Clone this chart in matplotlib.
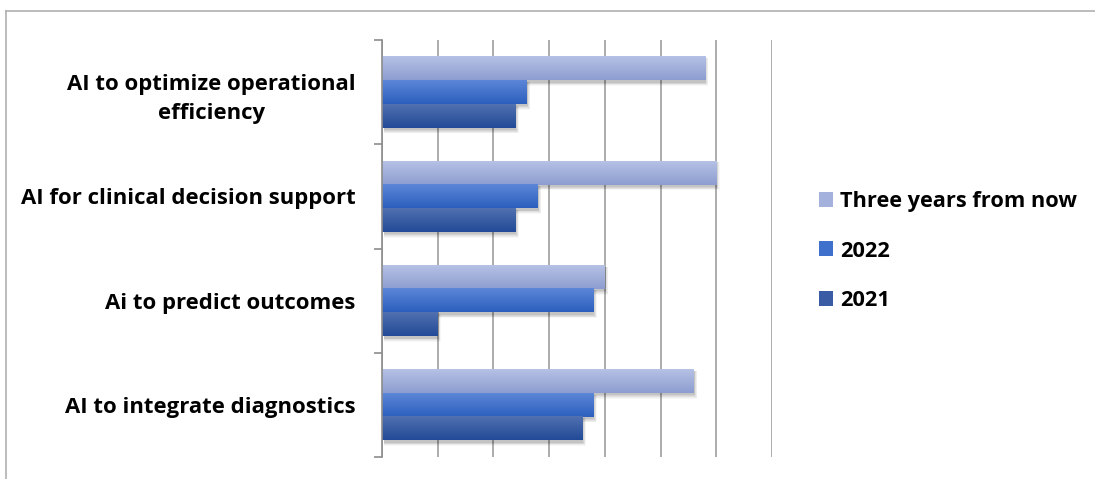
import numpy as np
import matplotlib
matplotlib.use('Agg')
import matplotlib.pyplot as plt
from matplotlib.patches import Rectangle, Patch
from matplotlib.lines import Line2D
from matplotlib.colors import to_rgb

plt.rcParams["font.family"] = ["Open Sans", "DejaVu Sans"]

# 응답 비율 (%)
categories = [
    "AI to optimize operational\nefficiency",
    "AI for clinical decision support",
    "Ai to predict outcomes",
    "AI to integrate diagnostics",
]
series_names = ["Three years from now", "2022", "2021"]
three_years = [58, 60, 40, 56]
y2022 = [26, 28, 38, 38]
y2021 = [24, 24, 10, 36]

# (위쪽 밝은색, 아래쪽 어두운색)
grad_colors = [
    ("#b5c1e5", "#8d9dcf"),
    ("#5c86d7", "#2c5fbe"),
    ("#5171b0", "#224a97"),
]
legend_colors = ["#a3b1dc", "#3f70cb", "#3a5ca4"]


def gradient_bar(ax, x0, width, y_top, height, c_top, c_bot):
    # 그림자: 오른쪽 아래로 번지는 회색
    for k, a in enumerate([0.07, 0.06, 0.05, 0.04, 0.03]):
        s = 0.06 * (k + 1)
        ax.add_patch(Rectangle((x0 + 0.3, y_top + 0.015), width - 0.3 + s * 2,
                               height + 0.008 * (k + 1),
                               facecolor="black", alpha=a, lw=0, zorder=2))
    n = 64
    t = np.linspace(0, 1, n)[:, None]
    top = np.array(to_rgb(c_top))
    bot = np.array(to_rgb(c_bot))
    img = (top * (1 - t) + bot * t)[:, None, :]
    ax.imshow(img, extent=(x0, x0 + width, y_top + height, y_top),
              origin="upper", aspect="auto", interpolation="bilinear", zorder=3)


fig = plt.figure(figsize=(10.95, 4.79), dpi=100)
ax = fig.add_axes([382 / 1095, 22 / 479, 390 / 1095, 417 / 479])

bar_h = 0.227
data = [three_years, y2022, y2021]
for i in range(len(categories)):
    start = i - 1.5 * bar_h
    for j, vals in enumerate(data):
        gradient_bar(ax, 0, vals[i], start + j * bar_h, bar_h, *grad_colors[j])

ax.set_xlim(0, 70)
ax.set_ylim(3.5, -0.5)

ax.set_xticks(np.arange(0, 71, 10))
ax.xaxis.grid(True, color="#a6a6a6", lw=1.3, zorder=1)
ax.set_axisbelow(True)
ax.tick_params(axis="x", length=0, labelbottom=False)

ax.set_yticks(range(len(categories)))
ax.set_yticklabels(categories, fontsize=15.9, fontweight="bold", ha="right",
                   multialignment="center", linespacing=1.55)
ax.set_yticks(np.arange(-0.5, 3.6, 1), minor=True)
ax.tick_params(axis="y", which="major", length=0, pad=19)
ax.tick_params(axis="y", which="minor", length=6, width=1.2, color="#8c8c8c",
               direction="out")

for side in ["top", "right", "bottom"]:
    ax.spines[side].set_visible(False)
ax.spines["left"].set_color("#8c8c8c")
ax.spines["left"].set_linewidth(1.2)
ax.spines["left"].set_zorder(4)

handles = [Patch(facecolor=c, edgecolor="none") for c in legend_colors]
fig.legend(handles, series_names, loc="center left",
           bbox_to_anchor=(799 / 1095, (479 - 251) / 479),
           frameon=False, prop={"weight": "bold", "size": 15.7},
           handlelength=0.68, handleheight=0.68, handletextpad=0.3,
           labelspacing=1.3)

# 차트 영역 테두리
fig.add_artist(Line2D([6 / 1095, 1], [1 - 11 / 479, 1 - 11 / 479],
                      transform=fig.transFigure, color="#b0b0b0", lw=1.2))
fig.add_artist(Line2D([6 / 1095, 6 / 1095], [0, 1 - 11 / 479],
                      transform=fig.transFigure, color="#b0b0b0", lw=1.2))

fig.savefig("out.png", dpi=100)
